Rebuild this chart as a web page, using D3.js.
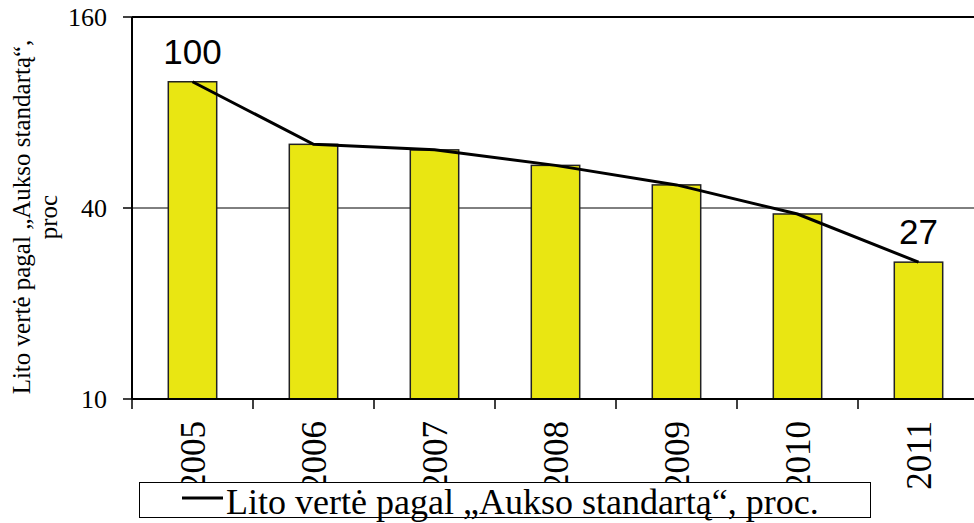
<!DOCTYPE html>
<html>
<head>
<meta charset="utf-8">
<script src="https://cdn.jsdelivr.net/npm/d3@7"></script>
<style>
  body { margin: 0; background: #fff; }
  svg { display: block; }
</style>
</head>
<body>
<svg width="974" height="523"></svg>
<script>
var years = ["2005", "2006", "2007", "2008", "2009", "2010", "2011"];
var values = [100, 63.5, 61, 54.5, 47.3, 38.3, 27];
var shownLabels = ["100", "", "", "", "", "", "27"];
var yTicks = [10, 40, 160];
var yTitle = ["Lito vertė pagal „Aukso standartą“,", "proc"];
var legendText = "Lito vertė pagal „Aukso standartą“, proc.";

var svg = d3.select("svg");
var plotLeft = 132, plotTop = 17, plotBottom = 399, plotRight = 979;

var x = d3.scaleBand().domain(years).range([plotLeft, plotRight])
    .paddingInner(0.6).paddingOuter(0.3);
var y = d3.scaleLog().domain([10, 160]).range([plotBottom, plotTop]);

// grid at 40
svg.append("line")
    .attr("x1", plotLeft).attr("x2", 974)
    .attr("y1", y(40)).attr("y2", y(40))
    .attr("stroke", "#000").attr("stroke-width", 1);

// bars
svg.append("g").selectAll("rect")
    .data(years)
    .enter().append("rect")
    .attr("x", function(d) { return x(d); })
    .attr("y", function(d, i) { return y(values[i]); })
    .attr("width", x.bandwidth())
    .attr("height", function(d, i) { return plotBottom - y(values[i]); })
    .attr("fill", "#e9e612")
    .attr("stroke", "#222")
    .attr("stroke-width", 1.5);

// frame: top, left, bottom
svg.append("line").attr("x1", plotLeft).attr("x2", 974).attr("y1", plotTop).attr("y2", plotTop)
    .attr("stroke", "#000").attr("stroke-width", 2);
svg.append("line").attr("x1", plotLeft).attr("x2", plotLeft).attr("y1", plotTop).attr("y2", plotBottom)
    .attr("stroke", "#000").attr("stroke-width", 2);
svg.append("line").attr("x1", plotLeft).attr("x2", 974).attr("y1", plotBottom).attr("y2", plotBottom)
    .attr("stroke", "#000").attr("stroke-width", 2);

// y ticks
var yg = svg.append("g");
yg.selectAll("line").data(yTicks).enter().append("line")
    .attr("x1", plotLeft - 9).attr("x2", plotLeft)
    .attr("y1", function(d) { return y(d); }).attr("y2", function(d) { return y(d); })
    .attr("stroke", "#000").attr("stroke-width", 1.5);
yg.selectAll("text").data(yTicks).enter().append("text")
    .attr("x", 107).attr("y", function(d) { return y(d); })
    .attr("dy", "0.36em")
    .attr("text-anchor", "end")
    .attr("font-family", "Liberation Serif, Times New Roman, serif")
    .attr("font-size", 26)
    .text(function(d) { return d; });

// x ticks at category boundaries
var bounds = years.map(function(d) { return x(d) - x.step() * 0.3; }).concat([plotRight]);
svg.append("g").selectAll("line").data(bounds).enter().append("line")
    .attr("x1", function(d) { return d; }).attr("x2", function(d) { return d; })
    .attr("y1", plotBottom).attr("y2", plotBottom + 10)
    .attr("stroke", "#000").attr("stroke-width", 1.5);

// year labels
svg.append("g").selectAll("text").data(years).enter().append("text")
    .attr("transform", function(d) {
        return "translate(" + (x(d) + x.bandwidth() / 2) + "," + 421 + ") rotate(-90)";
    })
    .attr("dy", "0.35em")
    .attr("text-anchor", "end")
    .attr("font-family", "Liberation Serif, Times New Roman, serif")
    .attr("font-size", 35)
    .text(function(d) { return d; });

// line
var line = d3.line()
    .x(function(d, i) { return x(years[i]) + x.bandwidth() / 2; })
    .y(function(d) { return y(d); });
svg.append("path").datum(values)
    .attr("d", line)
    .attr("fill", "none")
    .attr("stroke", "#000")
    .attr("stroke-width", 3);

// value labels
svg.append("g").selectAll("text").data(years).enter().append("text")
    .attr("x", function(d) { return x(d) + x.bandwidth() / 2; })
    .attr("y", function(d, i) { return y(values[i]) - 18; })
    .attr("text-anchor", "middle")
    .attr("font-family", "Liberation Sans, Arial, sans-serif")
    .attr("font-size", 35)
    .text(function(d, i) { return shownLabels[i]; });

// y title
svg.append("g").selectAll("text").data(yTitle).enter().append("text")
    .attr("transform", function(d, i) { return "translate(" + (30 + i * 27) + ",217) rotate(-90)"; })
    .attr("text-anchor", "middle")
    .attr("font-family", "Liberation Serif, Times New Roman, serif")
    .attr("font-size", 25)
    .text(function(d) { return d; });

// legend
var lg = svg.append("g");
lg.append("rect")
    .attr("x", 139.5).attr("y", 482.5).attr("width", 731).attr("height", 35)
    .attr("fill", "#fff").attr("stroke", "#000").attr("stroke-width", 1);
lg.append("rect")
    .attr("x", 182).attr("y", 496.5).attr("width", 41).attr("height", 3)
    .attr("fill", "#000");
lg.append("text")
    .attr("x", 226).attr("y", 514)
    .attr("font-family", "Liberation Serif, Times New Roman, serif")
    .attr("font-size", 36)
    .text(legendText);
</script>
</body>
</html>
